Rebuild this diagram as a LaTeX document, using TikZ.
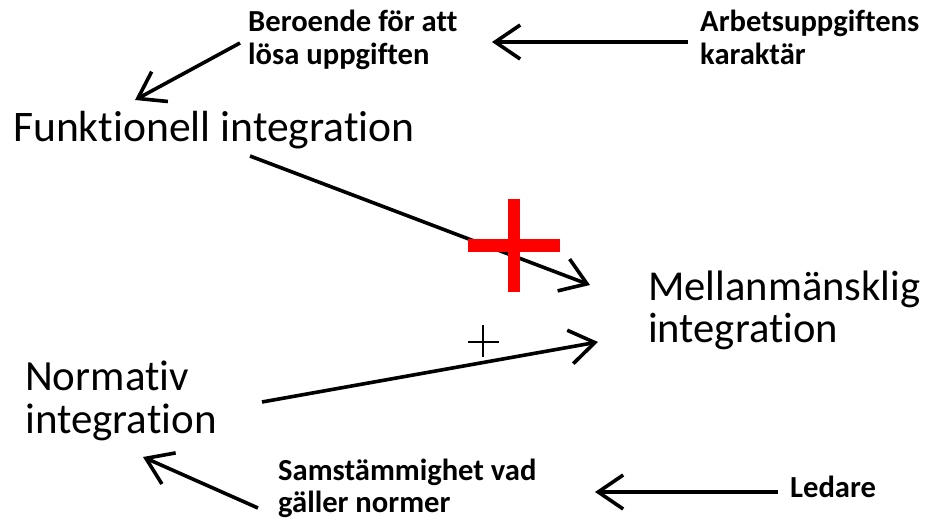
\documentclass[tikz,border=0pt]{standalone}
\usepackage{fontspec}
\setmainfont{Carlito}[Ligatures={NoCommon}]
\usetikzlibrary{arrows.meta}

\tikzset{
  bigtext/.style={inner sep=0pt, anchor=base west, align=left,
    font=\fontsize{43}{43}\selectfont},
  smalltext/.style={inner sep=0pt, anchor=base west, align=left,
    font=\fontsize{30.6}{33}\selectfont\bfseries},
  conn/.style={line width=3.6pt,
    -{Straight Barb[length=25pt,width=34pt,line width=3.6pt]}},
  plusbar/.style={fill=red, draw=none}
}

\begin{document}
\begin{tikzpicture}[x=1pt,y=-1pt]
  \useasboundingbox (0,0) rectangle (927,524);

  % labels (anchored at the baseline of their last line)
  \node[smalltext] (beroende) at (248,65) {Beroende för att\\lösa uppgiften};
  \node[smalltext] (arbets) at (700,65) {Arbetsuppgiftens\\karaktär};
  \node[bigtext, font=\fontsize{43.6}{43}\selectfont] (funk) at (13,142) {Funktionell integration};
  \node[bigtext, font=\fontsize{42.6}{42}\selectfont] (mellan) at (648,342) {Mellanmänsklig\\integration};
  \node[bigtext] (norm) at (25,433) {Normativ\\integration};
  \node[smalltext, font=\fontsize{30.6}{32}\selectfont\bfseries] (samst) at (278,512) {Samstämmighet vad\\gäller normer};
  \node[smalltext] (ledare) at (790,497) {Ledare};

  % connector end points
  \coordinate (arbets-out) at (688,42);
  \coordinate (beroende-in) at (492,42);
  \coordinate (beroende-out) at (240,43);
  \coordinate (funk-in) at (135,100);
  \coordinate (funk-out) at (250,156);
  \coordinate (mellan-in1) at (590,285);
  \coordinate (norm-out) at (262,402);
  \coordinate (mellan-in2) at (598,342);
  \coordinate (samst-out) at (258,508);
  \coordinate (norm-in) at (143,457);
  \coordinate (ledare-out) at (778,492);
  \coordinate (samst-in) at (595,492);

  % connectors
  \draw[conn] (arbets-out) -- (beroende-in);
  \draw[conn] (beroende-out) -- (funk-in);
  \draw[conn] (funk-out) -- (mellan-in1);
  \draw[conn] (norm-out) -- (mellan-in2);
  \draw[conn] (samst-out) -- (norm-in);
  \draw[conn] (ledare-out) -- (samst-in);

  % strong positive link
  \fill[plusbar] (508,199) rectangle (520,292);
  \fill[plusbar] (468,239) rectangle (560,252);

  % weak positive link
  \draw[line width=2pt] (468,342) -- (499,342);
  \draw[line width=2pt] (483,325) -- (483,357);
\end{tikzpicture}
\end{document}
